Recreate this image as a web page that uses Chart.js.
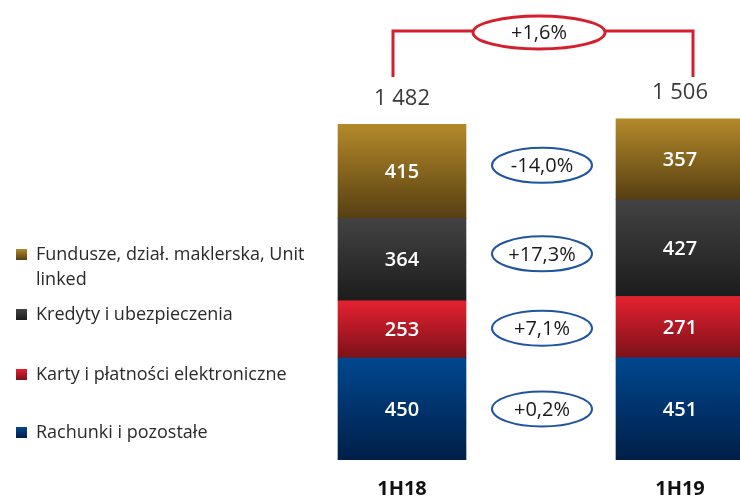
<!DOCTYPE html>
<html>
<head>
<meta charset="utf-8">
<script src="https://cdn.jsdelivr.net/npm/chart.js@4/dist/chart.umd.min.js"></script>
<style>
  html, body { margin: 0; padding: 0; background: #fff; overflow: hidden; }
  #wrap { position: absolute; left: 0; top: 0; width: 820px; height: 518px; }
</style>
</head>
<body>
<div id="wrap"><canvas id="c"></canvas></div>
<script>
// ---- data ----
const categories = ['1H18', '1H19'];
const rachunki = [450, 451];
const karty = [253, 271];
const kredyty = [364, 427];
const fundusze = [415, 357];
const totals = [1482, 1506];
const seriesChanges = ['+0,2%', '+7,1%', '+17,3%', '-14,0%'];
const totalChange = '+1,6%';
const seriesNames = ['Rachunki i pozostałe', 'Karty i płatności elektroniczne', 'Kredyty i ubezpieczenia', 'Fundusze, dział. maklerska, Unit linked'];

// ---- styles ----
const gradColors = [
  ['#00478f', '#001f48'],
  ['#e52130', '#7b1119'],
  ['#434343', '#1c1c1c'],
  ['#b3892a', '#573f12']
];
const TXT = '"Open Sans", "DejaVu Sans", sans-serif';

function segGradient(ctx) {
  const chart = ctx.chart;
  const di = ctx.datasetIndex, i = ctx.dataIndex;
  const cols = gradColors[di];
  if (!chart.chartArea || i === undefined) return cols[0];
  const y = chart.scales.y;
  let start = 0;
  for (let k = 0; k < di; k++) start += chart.data.datasets[k].data[i];
  const end = start + chart.data.datasets[di].data[i];
  const top = y.getPixelForValue(end), bot = y.getPixelForValue(start);
  const g = chart.ctx.createLinearGradient(0, top, 0, bot);
  g.addColorStop(0, cols[0]);
  g.addColorStop(1, cols[1]);
  return g;
}

const series = [rachunki, karty, kredyty, fundusze];

function fmt(v) {
  const s = String(v);
  return s.length > 3 ? s.slice(0, s.length - 3) + ' ' + s.slice(-3) : s;
}

const decor = {
  id: 'decor',
  afterDatasetsDraw(chart) {
    const ctx = chart.ctx;
    ctx.save();
    // segment labels
    ctx.fillStyle = '#ffffff';
    ctx.font = '600 20px ' + TXT;
    ctx.textAlign = 'center';
    ctx.textBaseline = 'middle';
    chart.data.datasets.forEach((ds, di) => {
      chart.getDatasetMeta(di).data.forEach((el, i) => {
        ctx.fillText(String(ds.data[i]), el.x, (el.y + el.base) / 2 + 1);
      });
    });
    // totals
    ctx.fillStyle = '#3a3a3a';
    ctx.font = '500 22px ' + TXT;
    const topMeta = chart.getDatasetMeta(chart.data.datasets.length - 1);
    topMeta.data.forEach((el, i) => {
      ctx.fillText(fmt(totals[i]), el.x, el.y - 26);
    });
    // change ellipses between bars
    const m0 = chart.getDatasetMeta(0).data;
    const cx = (m0[0].x + m0[1].x) / 2;
    ctx.font = '400 20px ' + TXT;
    chart.data.datasets.forEach((ds, di) => {
      const els = chart.getDatasetMeta(di).data;
      const cy = ((els[0].y + els[0].base) / 2 + (els[1].y + els[1].base) / 2) / 2;
      ctx.beginPath();
      ctx.ellipse(cx + 1, cy, 50, 17.5, 0, 0, Math.PI * 2);
      ctx.strokeStyle = '#1f55a0';
      ctx.lineWidth = 2;
      ctx.stroke();
      ctx.fillStyle = '#1a1a1a';
      ctx.fillText(seriesChanges[di], cx + 1, cy + 1);
    });
    // bracket for total change
    const x1 = topMeta.data[0].x - 9, x2 = topMeta.data[1].x + 13;
    const by = 31, bb = 77;
    const ecx = (x1 + x2) / 2 - 4, erx = 66, ery = 16.5;
    ctx.strokeStyle = '#d61f2c';
    ctx.lineWidth = 3;
    ctx.beginPath();
    ctx.moveTo(x1, bb); ctx.lineTo(x1, by); ctx.lineTo(ecx - erx, by);
    ctx.moveTo(ecx + erx, by); ctx.lineTo(x2, by); ctx.lineTo(x2, bb);
    ctx.stroke();
    ctx.beginPath();
    ctx.ellipse(ecx, by + 1.5, erx, ery, 0, 0, Math.PI * 2);
    ctx.stroke();
    ctx.fillStyle = '#1a1a1a';
    ctx.fillText(totalChange, ecx, by + 2.5);
    // legend
    const legendY = [255, 315, 375, 433];
    ctx.textAlign = 'left';
    ctx.font = '400 18px ' + TXT;
    for (let n = 0; n < 4; n++) {
      const di = 3 - n;
      const ly = legendY[n];
      const g = ctx.createLinearGradient(0, ly - 6, 0, ly + 5);
      g.addColorStop(0, gradColors[di][0]);
      g.addColorStop(1, gradColors[di][1]);
      ctx.fillStyle = g;
      ctx.fillRect(16, ly - 6, 11, 11);
      ctx.fillStyle = '#2a2a2a';
      const words = chart.data.datasets[di].label.split(' ');
      let line = '', lineY = ly;
      words.forEach(w => {
        const test = line ? line + ' ' + w : w;
        if (ctx.measureText(test).width > 285 && line) {
          ctx.fillText(line, 36, lineY);
          line = w; lineY += 25;
        } else line = test;
      });
      ctx.fillText(line, 36, lineY);
    }
    ctx.restore();
  }
};

new Chart(document.getElementById('c'), {
  type: 'bar',
  data: {
    labels: categories,
    datasets: series.map((d, i) => ({
      label: seriesNames[i],
      data: d,
      backgroundColor: segGradient,
      borderWidth: 0,
      barThickness: 128
    }))
  },
  options: {
    responsive: true,
    maintainAspectRatio: false,
    animation: false,
    layout: { padding: { left: 263, right: 1, top: 7, bottom: 0 } },
    plugins: { legend: { display: false }, tooltip: { enabled: false } },
    scales: {
      x: {
        stacked: true,
        grid: { display: false, drawTicks: false },
        border: { display: false },
        ticks: { color: '#111', font: { family: TXT, size: 20, weight: '700', lineHeight: 1.2 }, padding: 17 }
      },
      y: { stacked: true, display: false, min: 0, max: 2000 }
    }
  },
  plugins: [decor]
});
</script>
</body>
</html>
